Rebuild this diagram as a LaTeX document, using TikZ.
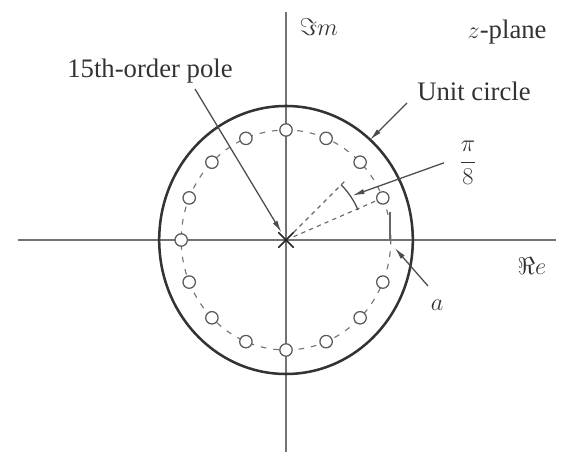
\documentclass[tikz,border=0pt]{standalone}
\usepackage{fontspec}
\setmainfont{Liberation Serif}
\usetikzlibrary{positioning,arrows.meta,shapes.misc}

\begin{document}
\begin{tikzpicture}[
  axis/.style={draw=black!55, line width=1.3pt},
  zero/.style={draw=black!65, fill=white, circle, inner sep=0pt, minimum size=3.1mm, line width=0.9pt},
  lead/.style={draw=black!70, line width=0.9pt, -{Latex[length=3mm,width=1.3mm]}},
  lbl/.style={text=black!80, font=\fontsize{19}{22}\selectfont, inner sep=1pt}
]
  \useasboundingbox (-7.15,-5.3) rectangle (6.95,6.0);
  % axes
  \coordinate (xl) at (-6.7,0);
  \coordinate (xr) at (6.75,0);
  \coordinate (yb) at (0,-5.3);
  \coordinate (yt) at (0,5.7);
  \draw[axis] (xl) -- (xr);
  \draw[axis] (yb) -- (yt);
  % unit circle and circle of radius a
  \draw[black!80, line width=1.8pt] (0,0) ellipse [x radius=3.17, y radius=3.35];
  \draw[black!55, line width=0.8pt, dash pattern=on 4pt off 5pt] (0,0) ellipse [x radius=2.62, y radius=2.75];
  \node[draw=black!85, cross out, minimum size=3.4mm, inner sep=0pt, line width=1.2pt] (pole) at (0,0) {};
  % zeros
  \foreach \k in {1,...,15}
    \node[zero] (z\k) at ({2.62*cos(22.5*\k)},{2.75*sin(22.5*\k)}) {};
  % angle between zeros
  \coordinate (r2) at (45:2.1);
  \draw[black!60, line width=0.8pt, dashed] (pole) -- (z1);
  \draw[black!60, line width=0.8pt, dashed] (pole) -- (r2);
  \draw[black!70, line width=0.9pt] (22.5:1.95) arc [start angle=22.5, end angle=45, radius=1.95];
  % radius a
  \coordinate (ta) at (2.6,0);
  \coordinate (tb) at (2.6,0.7);
  \draw[black!60, line width=0.8pt] (ta) -- (tb);
  % labels
  \node[lbl, anchor=west] (imlabel) at (0.3,5.33) {$\Im m$};
  \node[lbl, anchor=west] (relabel) at (5.75,-0.65) {$\Re e$};
  \node[lbl, anchor=west] (plane) at (4.5,5.2) {$z$-plane};
  \node[lbl] (polelabel) at (-3.4,4.225) {15th-order pole};
  \node[lbl] (unitlabel) at (4.7,3.725) {Unit circle};
  \node[lbl] (anglelabel) at (4.55,1.925) {$\displaystyle\frac{\pi}{8}$};
  \node[lbl] (alabel) at (3.775,-1.625) {$a$};
  % leaders
  \coordinate (p0) at (-2.275,3.775);
  \coordinate (c0) at (3.025,3.425);
  \coordinate (c1) at (50:3.27);
  \coordinate (g0) at (3.95,1.93);
  \coordinate (g1) at (33.75:2.0);
  \coordinate (a0) at (3.55,-1.15);
  \coordinate (a1) at (2.72,-0.2);
  \draw[lead] (p0) -- (pole);
  \draw[lead] (c0) -- (c1);
  \draw[lead] (g0) -- (g1);
  \draw[lead] (a0) -- (a1);
\end{tikzpicture}
\end{document}
